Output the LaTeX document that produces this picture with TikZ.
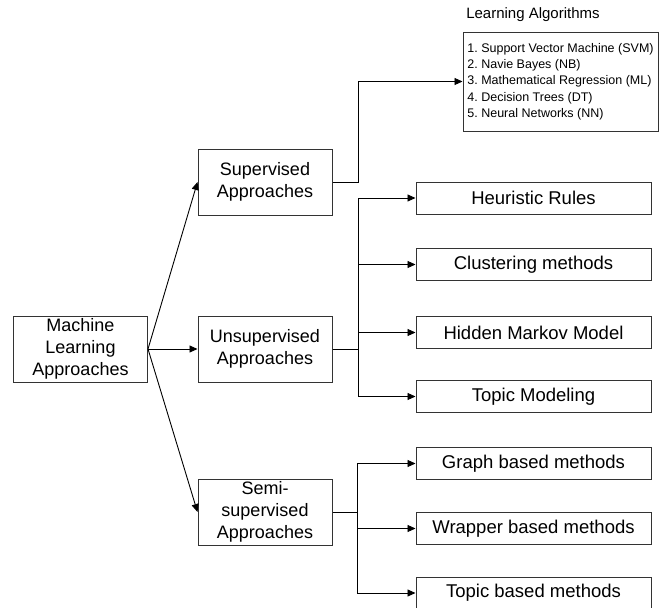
\documentclass[tikz,border=0pt]{standalone}
\usepackage{fontspec}
\setmainfont{Liberation Sans}
\usetikzlibrary{arrows.meta}
\tikzset{every path/.style={line width=0.9pt},
  box/.style={draw=black!80, line width=1pt, align=center, inner sep=0pt, font=\fontsize{18}{22}\selectfont},
  mainbox/.style={box, minimum width=134pt, minimum height=66pt},
  leafbox/.style={box, minimum width=235pt, minimum height=32pt, font=\fontsize{18.5}{22}\selectfont},
  arr/.style={-{Triangle[length=8pt,width=7pt]}}}

\begin{document}
\frenchspacing
\begin{tikzpicture}[x=1pt,y=-1pt]
  \useasboundingbox (0,0) rectangle (659,608);
  % left and middle column
  \node[mainbox] (ml)    at ( 80.5,349) {Machine\\Learning\\Approaches};
  \node[mainbox] (sup)   at (265,182) {Supervised\\Approaches};
  \node[mainbox] (unsup) at (265,349) {Unsupervised\\Approaches};
  \node[mainbox] (semi)  at (265,512) {Semi-\\supervised\\Approaches};
  % learning algorithms
  \node[font=\fontsize{15}{17}\selectfont] (title) at (533,15) {Learning Algorithms};
  \node[box, minimum width=195pt, minimum height=99pt, align=left,
        font=\fontsize{12.5}{16.3}\selectfont] (la) at (560.5,81.5)
    {1. Support Vector Machine (SVM)\\2. Navie Bayes (NB)\\3. Mathematical Regression (ML)\\4. Decision Trees (DT)\\5. Neural Networks (NN)};
  % right column
  \node[leafbox] (hr)  at (533.5,198)   {Heuristic Rules};
  \node[leafbox] (cl)  at (533.5,264.5) {Clustering methods};
  \node[leafbox] (hmm) at (533.5,332.5) {Hidden Markov Model};
  \node[leafbox] (tm)  at (533.5,396.5) {Topic Modeling};
  \node[leafbox] (gb)  at (533.5,463.5) {Graph based methods};
  \node[leafbox] (wb)  at (533.5,528.5) {Wrapper based methods};
  \node[leafbox] (tb)  at (533.5,593)   {Topic based methods};
  \coordinate (ub) at (358,349);
  \coordinate (sb) at (357,512);
  % connectors
  \draw[arr] (ml.east) -- (sup.west);
  \draw[arr] (ml.east) -- (unsup.west);
  \draw[arr] (ml.east) -- (semi.west);
  \draw[arr] (sup.east) -- ++(26,0) |- (la.west);
  \draw (unsup.east) -- (ub);
  \foreach \t in {hr,cl,hmm,tm} \draw[arr] (ub) |- (\t.west);
  \draw (semi.east) -- (sb);
  \foreach \t in {gb,wb,tb} \draw[arr] (sb) |- (\t.west);
\end{tikzpicture}
\end{document}
